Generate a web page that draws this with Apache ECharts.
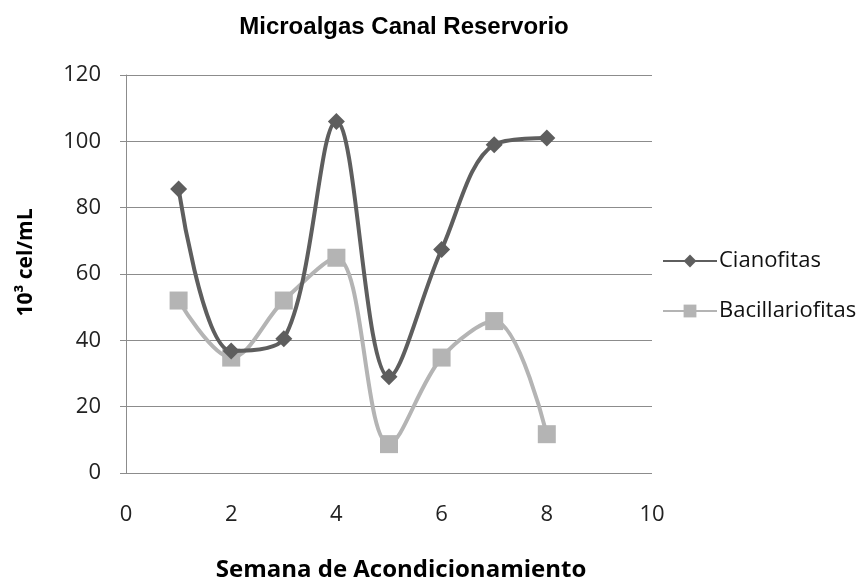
<!DOCTYPE html>
<html>
<head>
<meta charset="utf-8">
<script src="https://cdn.jsdelivr.net/npm/echarts@6/dist/echarts.min.js"></script>
<style>
  html, body { margin: 0; padding: 0; background: #fff; }
  #chart { width: 866px; height: 587px; }
</style>
</head>
<body>
<div id="chart"></div>
<script>
// weeks and cell counts (10^3 cel/mL)
const weeks = [1, 2, 3, 4, 5, 6, 7, 8];
const cianofitas = [85.6, 36.8, 40.5, 106, 29, 67.4, 99, 101];
const bacillariofitas = [52, 34.8, 52, 64.9, 8.7, 34.8, 45.8, 11.7];
const xTicks = [0, 2, 4, 6, 8, 10];
const yTicks = [0, 20, 40, 60, 80, 100, 120];

const chart = echarts.init(document.getElementById("chart"));

const pairs = (ys) => weeks.map((w, i) => [w, ys[i]]);
const tickFont = "'Open Sans', sans-serif";

const option = {
  animation: false,
  title: {
    text: "Microalgas Canal Reservorio",
    left: 399,
    top: 10,
    textAlign: "center",
    textStyle: {
      fontFamily: "'Liberation Sans', Arial, sans-serif",
      fontSize: 24,
      fontWeight: "bold",
      color: "#000",
    },
  },
  legend: {
    orient: "vertical",
    left: 657,
    top: 245,
    itemWidth: 54,
    itemHeight: 16,
    itemGap: 28,
    textStyle: { fontFamily: tickFont, fontSize: 22, color: "#111", padding: [0, 0, 0, -3] },
    data: ["Cianofitas", "Bacillariofitas"],
  },
  grid: { left: 126, right: 214, top: 75, bottom: 113 },
  xAxis: {
    type: "value",
    min: xTicks[0],
    max: xTicks[xTicks.length - 1],
    interval: 2,
    name: "Semana de Acondicionamiento",
    nameLocation: "middle",
    nameGap: 85,
    nameTextStyle: {
      fontFamily: tickFont, fontSize: 24, fontWeight: "bold", color: "#000",
      padding: [0, 0, 0, 24],
    },
    axisLine: { show: false },
    axisTick: { show: false },
    splitLine: { show: false },
    axisLabel: { fontFamily: tickFont, fontSize: 22, color: "#222", margin: 31 },
  },
  yAxis: {
    type: "value",
    min: yTicks[0],
    max: yTicks[yTicks.length - 1],
    interval: 20,
    name: "10³ cel/mL",
    nameLocation: "middle",
    nameGap: 89,
    nameTextStyle: {
      fontFamily: tickFont, fontSize: 21, fontWeight: "bold", color: "#000",
      padding: [0, 0, 0, 23],
    },
    axisLine: { show: true, lineStyle: { color: "#8c8c8c", width: 1 } },
    axisTick: { show: true, length: 6, lineStyle: { color: "#8c8c8c" } },
    splitLine: { show: true, lineStyle: { color: "#8c8c8c", width: 1 } },
    axisLabel: { fontFamily: tickFont, fontSize: 22, color: "#222", margin: 25 },
  },
  series: [
    {
      name: "Cianofitas",
      type: "line",
      smooth: 0.35,
      data: pairs(cianofitas),
      symbol: "diamond",
      symbolSize: 17,
      lineStyle: { color: "#5e5e5e", width: 4 },
      itemStyle: { color: "#5e5e5e" },
      z: 3,
    },
    {
      name: "Bacillariofitas",
      type: "line",
      smooth: 0.35,
      data: pairs(bacillariofitas),
      symbol: "rect",
      symbolSize: 18,
      lineStyle: { color: "#b4b4b4", width: 4 },
      itemStyle: { color: "#b4b4b4" },
      z: 2,
    },
  ],
};

chart.setOption(option);
</script>
</body>
</html>
